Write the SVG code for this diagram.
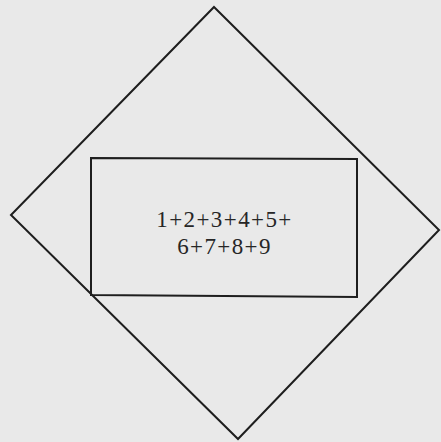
<svg xmlns="http://www.w3.org/2000/svg" width="441" height="442" viewBox="0 0 441 442">
  <style>
    .shape { fill: none; stroke: #1e1e1e; stroke-width: 2; stroke-linejoin: miter; }
    .label { font-family: "Liberation Serif", "Times New Roman", serif; font-size: 23px; fill: #262626; letter-spacing: 1.4px; text-anchor: middle; }
  </style>
  <rect x="0" y="0" width="441" height="442" fill="#e9e9e9"/>
  <g id="diamond">
    <polygon class="shape" points="214,7 439,230 238,439 11,215"/>
  </g>
  <g id="box">
    <polygon class="shape" points="91,158 357,159 357,297 91,295"/>
    <text class="label" x="224.5" y="227">1+2+3+4+5+</text>
    <text class="label" x="224.5" y="254">6+7+8+9</text>
  </g>
  <g id="connectors"></g>
</svg>
